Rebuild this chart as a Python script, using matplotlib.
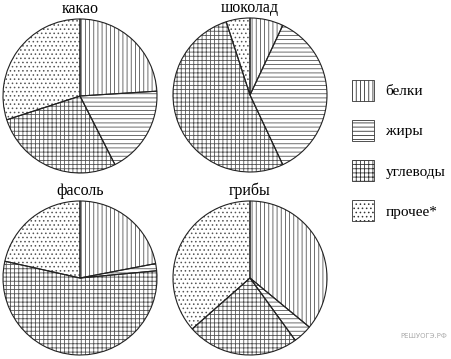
import numpy as np
import matplotlib.pyplot as plt

# data ---------------------------------------------------------------
categories = ['белки', 'жиры', 'углеводы', 'прочее*']
products = ['какао', 'шоколад', 'фасоль', 'грибы']
kakao = [24, 18.5, 27.5, 30]
shokolad = [7, 36, 52, 5]
fasol = [22, 1.5, 55, 21.5]
griby = [36, 4, 23.5, 36.5]

hatches = ['||||', '----', '++++', '....']

# layout (pixels, y measured from top) --------------------------------
W, H = 452, 359
centers = [(80, 96), (250, 95), (80, 278), (250, 278)]
radius = 77

plt.rcParams['font.family'] = ['Liberation Serif', 'DejaVu Serif']
plt.rcParams['hatch.linewidth'] = 0.6

fig = plt.figure(figsize=(W / 100, H / 100), dpi=100)
ax = fig.add_axes([0, 0, 1, 1])

all_values = [kakao, shokolad, fasol, griby]
for name, vals, (cx, cy) in zip(products, all_values, centers):
    # hatched fill in grey
    wedges, _ = ax.pie(vals, center=(cx, H - cy), radius=radius,
                       startangle=90, counterclock=False,
                       colors=['white'] * len(vals),
                       wedgeprops=dict(edgecolor='#555555', linewidth=0))
    for w, h in zip(wedges, hatches):
        w.set_hatch(h)
    # black outlines on top
    ax.pie(vals, center=(cx, H - cy), radius=radius,
           startangle=90, counterclock=False,
           wedgeprops=dict(fill=False, edgecolor='#222222', linewidth=0.8))
    ax.text(cx, H - cy + radius + 10, name, ha='center', va='center', fontsize=11.5)

ax.set_xlim(0, W)
ax.set_ylim(0, H)
ax.set_aspect('auto')
ax.axis('off')

handles = []
for h in hatches:
    p = plt.Rectangle((0, 0), 1, 1, facecolor='white', edgecolor='#333333',
                      linewidth=0.6, hatch=h)
    handles.append(p)

leg = ax.legend(handles, categories, loc='upper left',
                bbox_to_anchor=(352 / W, 1 - 80 / H), frameon=False,
                fontsize=11, handlelength=1.45, handleheight=1.72,
                labelspacing=1.26, handletextpad=0.75, borderpad=0,
                borderaxespad=0)

ax.text(447, H - 336, 'РЕШУОГЭ.РФ', ha='right', va='center', fontsize=5,
        color='#aaaaaa', family='DejaVu Sans')

fig.savefig('out.png', dpi=100)
